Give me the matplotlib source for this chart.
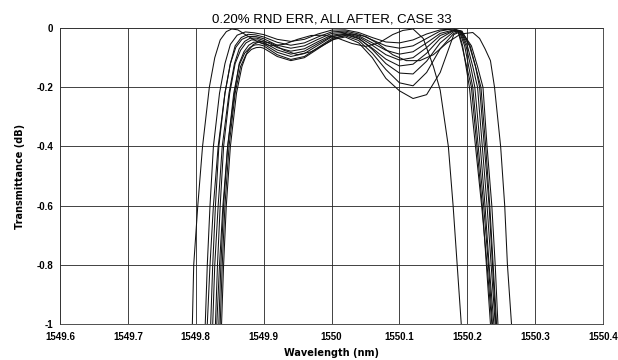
import numpy as np
import matplotlib.pyplot as plt

plt.rcParams['font.family'] = ['Liberation Sans', 'DejaVu Sans']

title = "0.20% RND ERR, ALL AFTER, CASE 33"
x_ticks = [1549.6, 1549.7, 1549.8, 1549.9, 1550.0, 1550.1, 1550.2, 1550.3, 1550.4]
x_labels = ["1549.6", "1549.7", "1549.8", "1549.9", "1550", "1550.1", "1550.2", "1550.3", "1550.4"]
y_ticks = [-1.0, -0.8, -0.6, -0.4, -0.2, 0.0]
y_labels = ["-1", "-0.8", "-0.6", "-0.4", "-0.2", "0"]

# common passband wavelengths for the main group of runs
wl_pass = [1549.90, 1549.92, 1549.94, 1549.96, 1549.98, 1550.00, 1550.02, 1550.04,
           1550.06, 1550.08, 1550.10, 1550.12, 1550.14, 1550.16, 1550.18]

# rising edge, per run
wl_left_1 = [1549.814, 1549.817, 1549.821, 1549.826, 1549.835, 1549.843, 1549.851, 1549.861, 1549.873, 1549.886]
db_left_1 = [-1.0, -0.8, -0.6, -0.4, -0.22, -0.12, -0.055, -0.024, -0.013, -0.016]
wl_left_2 = [1549.817, 1549.821, 1549.826, 1549.833, 1549.843, 1549.851, 1549.858, 1549.867, 1549.877, 1549.888]
db_left_2 = [-1.0, -0.8, -0.6, -0.4, -0.22, -0.12, -0.06, -0.032, -0.021, -0.023]
wl_left_3 = [1549.822, 1549.825, 1549.829, 1549.834, 1549.843, 1549.851, 1549.859, 1549.868, 1549.878, 1549.889]
db_left_3 = [-1.0, -0.8, -0.6, -0.4, -0.22, -0.12, -0.065, -0.038, -0.028, -0.029]
wl_left_4 = [1549.825, 1549.828, 1549.833, 1549.839, 1549.849, 1549.857, 1549.864, 1549.872, 1549.880, 1549.890]
db_left_4 = [-1.0, -0.8, -0.6, -0.4, -0.22, -0.12, -0.07, -0.045, -0.034, -0.034]
wl_left_5 = [1549.829, 1549.832, 1549.836, 1549.841, 1549.850, 1549.858, 1549.866, 1549.874, 1549.882, 1549.891]
db_left_5 = [-1.0, -0.8, -0.6, -0.4, -0.22, -0.12, -0.075, -0.05, -0.04, -0.04]
wl_left_6 = [1549.831, 1549.835, 1549.840, 1549.847, 1549.857, 1549.864, 1549.871, 1549.878, 1549.885, 1549.892]
db_left_6 = [-1.0, -0.8, -0.6, -0.4, -0.22, -0.12, -0.08, -0.058, -0.048, -0.047]
wl_left_7 = [1549.834, 1549.837, 1549.841, 1549.847, 1549.856, 1549.864, 1549.872, 1549.880, 1549.887, 1549.893]
db_left_7 = [-1.0, -0.8, -0.6, -0.4, -0.22, -0.125, -0.085, -0.065, -0.057, -0.056]
wl_left_8 = [1549.836, 1549.839, 1549.843, 1549.849, 1549.858, 1549.866, 1549.874, 1549.882, 1549.889, 1549.895]
db_left_8 = [-1.0, -0.8, -0.6, -0.4, -0.22, -0.13, -0.09, -0.072, -0.066, -0.065]

# passband ripple, per run, on wl_pass
db_pass_1 = [-0.022, -0.038, -0.045, -0.038, -0.020, -0.007, -0.006, -0.015, -0.032, -0.047, -0.050, -0.040, -0.020, -0.006, -0.003]
db_pass_2 = [-0.030, -0.048, -0.058, -0.050, -0.030, -0.013, -0.010, -0.020, -0.040, -0.060, -0.068, -0.060, -0.035, -0.010, -0.002]
db_pass_3 = [-0.036, -0.058, -0.068, -0.060, -0.038, -0.018, -0.014, -0.026, -0.050, -0.075, -0.088, -0.080, -0.050, -0.018, -0.006]
db_pass_4 = [-0.042, -0.066, -0.078, -0.070, -0.046, -0.024, -0.018, -0.030, -0.058, -0.090, -0.108, -0.100, -0.066, -0.025, -0.008]
db_pass_5 = [-0.048, -0.074, -0.088, -0.078, -0.052, -0.028, -0.022, -0.036, -0.068, -0.105, -0.128, -0.122, -0.085, -0.035, -0.008]
db_pass_6 = [-0.054, -0.082, -0.096, -0.086, -0.058, -0.030, -0.020, -0.034, -0.072, -0.120, -0.152, -0.155, -0.112, -0.050, -0.012]
db_pass_7 = [-0.060, -0.090, -0.106, -0.096, -0.066, -0.036, -0.026, -0.042, -0.085, -0.140, -0.185, -0.195, -0.150, -0.070, -0.018]
db_pass_8 = [-0.068, -0.096, -0.110, -0.100, -0.070, -0.040, -0.030, -0.050, -0.100, -0.170, -0.212, -0.238, -0.225, -0.150, -0.022]

# falling edge, shared dB levels
db_right = [-0.01, -0.06, -0.13, -0.2, -0.4, -0.6, -0.8, -1.0]
wl_right_1 = [1550.187, 1550.193, 1550.198, 1550.203, 1550.212, 1550.221, 1550.229, 1550.236]
wl_right_2 = [1550.190, 1550.203, 1550.212, 1550.220, 1550.227, 1550.233, 1550.238, 1550.243]
wl_right_3 = [1550.188, 1550.196, 1550.202, 1550.208, 1550.216, 1550.224, 1550.231, 1550.237]
wl_right_4 = [1550.190, 1550.200, 1550.208, 1550.215, 1550.222, 1550.229, 1550.235, 1550.241]
wl_right_5 = [1550.186, 1550.192, 1550.199, 1550.206, 1550.214, 1550.222, 1550.228, 1550.234]
wl_right_6 = [1550.191, 1550.206, 1550.215, 1550.223, 1550.229, 1550.236, 1550.241, 1550.245]
wl_right_7 = [1550.189, 1550.198, 1550.205, 1550.211, 1550.219, 1550.226, 1550.232, 1550.239]
wl_right_8 = [1550.192, 1550.204, 1550.212, 1550.218, 1550.225, 1550.232, 1550.237, 1550.242]

# run shifted to shorter wavelength
wl_a = [1549.795, 1549.797, 1549.803, 1549.810, 1549.820, 1549.828, 1549.836, 1549.845, 1549.853, 1549.862,
        1549.875, 1549.89, 1549.91, 1549.93, 1549.95, 1549.97, 1549.99, 1550.01, 1550.03, 1550.05,
        1550.07, 1550.09, 1550.105, 1550.12, 1550.135, 1550.150, 1550.160, 1550.172, 1550.179, 1550.185, 1550.191]
db_a = [-1.0, -0.8, -0.6, -0.4, -0.2, -0.1, -0.04, -0.012, -0.003, -0.006,
        -0.025, -0.045, -0.06, -0.055, -0.038, -0.025, -0.024, -0.035, -0.052, -0.062,
        -0.05, -0.022, -0.008, -0.003, -0.035, -0.13, -0.21, -0.4, -0.6, -0.8, -1.0]

# run shifted to longer wavelength
wl_b = [1549.838, 1549.841, 1549.845, 1549.851, 1549.860, 1549.868, 1549.876, 1549.885, 1549.895, 1549.91,
        1549.93, 1549.95, 1549.97, 1549.99, 1550.01, 1550.03, 1550.05, 1550.07, 1550.09, 1550.11,
        1550.13, 1550.15, 1550.17, 1550.19, 1550.208, 1550.218, 1550.226, 1550.234, 1550.240, 1550.249,
        1550.255, 1550.259, 1550.265]
db_b = [-1.0, -0.8, -0.6, -0.4, -0.22, -0.13, -0.08, -0.055, -0.045, -0.05,
        -0.075, -0.09, -0.08, -0.055, -0.03, -0.02, -0.028, -0.055, -0.09, -0.11,
        -0.11, -0.09, -0.05, -0.02, -0.015, -0.035, -0.07, -0.11, -0.2, -0.4,
        -0.6, -0.8, -1.0]

runs = [
    (wl_left_1, db_left_1, db_pass_1, wl_right_1),
    (wl_left_2, db_left_2, db_pass_2, wl_right_2),
    (wl_left_3, db_left_3, db_pass_3, wl_right_3),
    (wl_left_4, db_left_4, db_pass_4, wl_right_4),
    (wl_left_5, db_left_5, db_pass_5, wl_right_5),
    (wl_left_6, db_left_6, db_pass_6, wl_right_6),
    (wl_left_7, db_left_7, db_pass_7, wl_right_7),
    (wl_left_8, db_left_8, db_pass_8, wl_right_8),
]

fig = plt.figure(figsize=(6.18, 3.6), dpi=100)
ax = fig.add_axes([0.097, 0.1, 0.879, 0.822])

for wl_l, db_l, db_p, wl_r in runs:
    wl = wl_l + wl_pass + wl_r
    db = db_l + db_p + db_right
    ax.plot(wl, db, color='#111111', lw=0.75)
ax.plot(wl_a, db_a, color='#111111', lw=0.75)
ax.plot(wl_b, db_b, color='#111111', lw=0.75)

ax.set_xlim(1549.6, 1550.4)
ax.set_ylim(-1, 0)
ax.set_xticks(x_ticks)
ax.set_xticklabels(x_labels)
ax.set_yticks(y_ticks)
ax.set_yticklabels(y_labels)
ax.grid(True, color='#222222', lw=0.6)
ax.set_axisbelow(True)
ax.tick_params(length=0, labelsize=7, pad=5)
ax.tick_params(axis='x', pad=6)
for lbl in ax.get_xticklabels() + ax.get_yticklabels():
    lbl.set_fontweight('bold')
for s in ax.spines.values():
    s.set_linewidth(0.6)
    s.set_color('#333333')

ax.set_title(title, fontsize=9.5, pad=4)
ax.set_xlabel('Wavelength (nm)', fontsize=7, fontweight='bold', labelpad=4,
              family=['DejaVu Sans'])
ax.set_ylabel('Transmittance (dB)', fontsize=7, fontweight='bold', labelpad=8,
              family=['DejaVu Sans'])

fig.savefig('out.png', dpi=100)
